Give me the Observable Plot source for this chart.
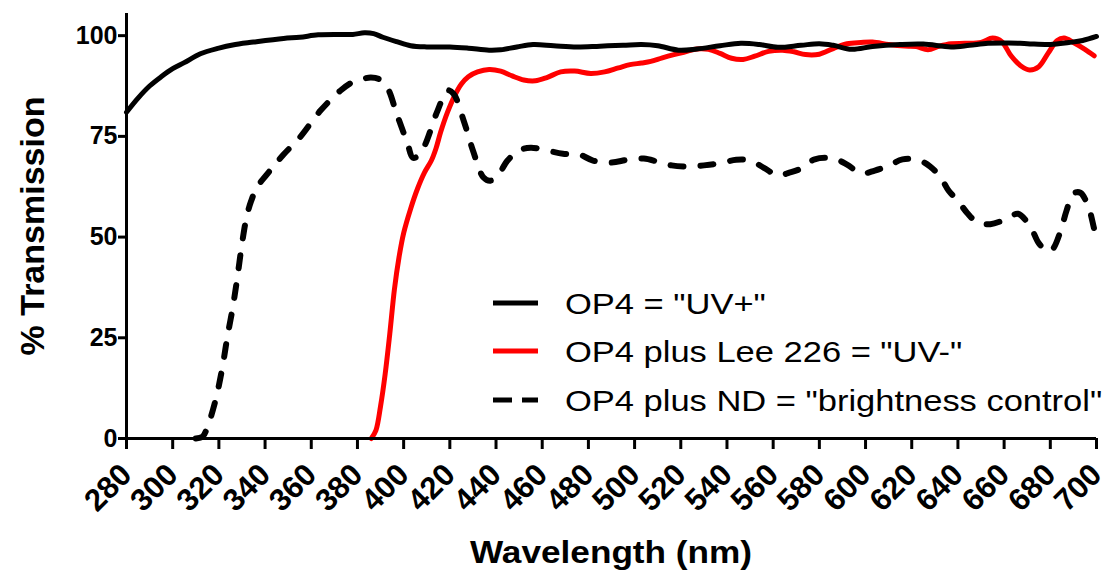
<!DOCTYPE html>
<html>
<head>
<meta charset="utf-8">
<script src="https://cdn.jsdelivr.net/npm/d3@7"></script>
<script src="https://cdn.jsdelivr.net/npm/@observablehq/plot@0.6"></script>
<style>
  body { margin: 0; background: #fff; }
  #chart { width: 1108px; height: 575px; }
</style>
</head>
<body>
<div id="chart"></div>
<script>
// ---- data ----
const xTicks = [280,300,320,340,360,380,400,420,440,460,480,500,520,540,560,580,600,620,640,660,680,700];
const yTicks = [0,25,50,75,100];

const uvPlusNm = [280,285,290,295,300,305,312,320,326,335,348,355,363,372,378,383,387,391,397,403,410,420,428,437,442,449,456,465,475,485,495,503,510,519,527,537,546,554,562,572,580,586,594,603,615,625,637,645,653,662,670,680,688,694,700];
const uvPlusT  = [81,84.5,87.5,89.8,91.8,93.3,95.5,96.9,97.7,98.4,99.3,99.6,100.2,100.3,100.3,100.7,100.5,99.6,98.5,97.5,97.2,97.2,96.9,96.4,96.5,97.2,97.8,97.5,97.2,97.4,97.6,97.8,97.5,96.4,96.7,97.5,98.1,97.8,97.1,97.6,98.0,97.6,96.6,97.3,97.8,97.9,97.2,97.6,98.1,98.2,98.0,97.8,98.3,98.8,99.8];

const uvMinusNm = [386,388,390,392,394,396,398,400,403,406,409,412,414,416,419,422,425,428,432,437,442,447,452,457,462,468,474,481,487,493,498,503,507,512,517,522,527,532,537,542,547,552,558,564,569,574,580,586,592,598,603,610,617,622,627,632,637,643,650,655,659,663,667,671,675,679,683,686,690,695,699];
const uvMinusT  = [0,2,8,16,26,37,45,51,57,62,66,69,72,76,81,85,88,89.8,91,91.6,91.2,90,89,88.8,89.6,91,91.2,90.6,91,92,92.8,93.2,93.6,94.5,95.3,96,96.7,96.6,95.6,94.4,94.1,94.9,96.1,96.4,96,95.3,95.4,96.8,98,98.3,98.4,97.8,97.4,97.3,96.5,97.4,98,98.1,98.3,99.4,98.5,95,92.6,91.5,92.3,95.6,98.8,99.4,98.3,96.6,95];

const ndNm = [310,313,315,318.5,321.5,323.6,326,328,330,332,334,336.5,340,344,348,355,364,372.7,378,382.6,385.7,389,393,397,401.7,404,407,409.5,414.7,419,421.6,426,430,434.6,437.6,441,445,450,455,462,469,476,482,490,497,504,510,516,523,530,537,544,550,556,562,567,572,578,586,592,598,604,610,616,622.5,628,632.5,636,640,644,648.5,654,661.5,666,671.5,675,678.8,681,684.5,687,690,693,696.6,699,700];
const ndT  = [0,0.5,2.8,9.4,17.6,25,32.5,40,48.3,55,59,62.4,65,67.8,70.5,74.7,81.4,86.4,88.5,89.3,89.6,89.3,87,80.6,73.2,69.7,70.5,73.2,81.4,86.4,85.6,78.9,71.5,64.8,64,65.5,69,71.5,72.2,71.5,70.7,70.5,69,68.5,69.2,69.5,68.7,67.8,67.5,67.8,68.3,69.2,69,67.2,65.3,66,67,69.3,69.5,68,65.8,66.5,67.7,69.3,69.2,67.5,64.8,61.5,59,56,53.6,53.2,54.6,55.8,52.4,48.5,46.5,47,51.6,56.5,60.8,61,57.3,52,50];

const seriesNames = ['OP4 = "UV+"', 'OP4 plus Lee 226 = "UV-"', 'OP4 plus ND = "brightness control"'];
const xTitle = "Wavelength (nm)";
const yTitle = "% Transmission";

const toRows = (xs, ys) => xs.map((x, i) => ({x, y: ys[i]}));
const uvPlus = toRows(uvPlusNm, uvPlusT);
const uvMinus = toRows(uvMinusNm, uvMinusT);
const nd = toRows(ndNm, ndT);

const FONT = "'Liberation Sans', Arial, Helvetica, sans-serif";

const plot = Plot.plot({
  width: 1108,
  height: 575,
  marginLeft: 126,
  marginRight: 12,
  marginTop: 13,
  marginBottom: 137,
  style: {fontFamily: FONT, fontWeight: "bold", color: "#000", background: "#fff"},
  x: {domain: [280, 700]},
  y: {domain: [0, 105.5]},
  marks: [
    Plot.axisY({ticks: yTicks, tickSize: 8, tickPadding: 1, fontSize: 25, strokeWidth: 3, label: null, tickFormat: d => String(d)}),
    Plot.axisX({ticks: xTicks, tickSize: 11, tickPadding: 20, tickRotate: -45, fontSize: 31, strokeWidth: 3, label: null, tickFormat: d => String(d)}),
    Plot.line(uvMinus, {x: "x", y: "y", stroke: "#ff0000", strokeWidth: 5, curve: "catmull-rom"}),
    Plot.line(nd, {x: "x", y: "y", stroke: "#000", strokeWidth: 6, curve: "catmull-rom", strokeDasharray: "13,17", strokeLinecap: "round"}),
    Plot.line(uvPlus, {x: "x", y: "y", stroke: "#000", strokeWidth: 5, curve: "catmull-rom"}),
    Plot.ruleX([280], {stroke: "#000", strokeWidth: 3}),
    Plot.ruleY([0], {stroke: "#000", strokeWidth: 3})
  ]
});

document.getElementById("chart").appendChild(plot);

const svg = d3.select(plot);
svg.selectAll('[aria-label="x-axis tick label"]').attr("font-size", 31).selectAll("text").style("font-size", "31px");
svg.selectAll('[aria-label="y-axis tick label"]').attr("font-size", 25).selectAll("text").style("font-size", "25px");

// ---- titles and legend ----
svg.append("text")
  .attr("text-anchor", "middle")
  .attr("transform", "translate(611,563) scale(1.1,1)")
  .style("font-family", FONT).style("font-weight", "bold").style("font-size", "32px")
  .text(xTitle);
svg.append("text")
  .attr("transform", "translate(44,226) rotate(-90)")
  .attr("text-anchor", "middle")
  .style("font-family", FONT).style("font-weight", "bold").style("font-size", "34px")
  .text(yTitle);

const legendStyles = [
  {stroke: "#000", dash: null},
  {stroke: "#ff0000", dash: null},
  {stroke: "#000", dash: "19,10"}
];
const legendY = [303, 351, 400];
const lg = svg.append("g");
seriesNames.forEach((name, i) => {
  const ln = lg.append("line")
    .attr("x1", 493).attr("x2", 538)
    .attr("y1", legendY[i]).attr("y2", legendY[i])
    .attr("stroke", legendStyles[i].stroke).attr("stroke-width", 5);
  if (legendStyles[i].dash) ln.attr("stroke-dasharray", legendStyles[i].dash);
  lg.append("text")
    .attr("transform", `translate(565,${legendY[i]}) scale(1.15,1)`)
    .attr("dy", "0.36em")
    .attr("text-anchor", "start")
    .style("font-family", FONT).style("font-weight", "normal").style("font-size", "30px")
    .attr("fill", "#000")
    .text(name);
});
</script>
</body>
</html>
